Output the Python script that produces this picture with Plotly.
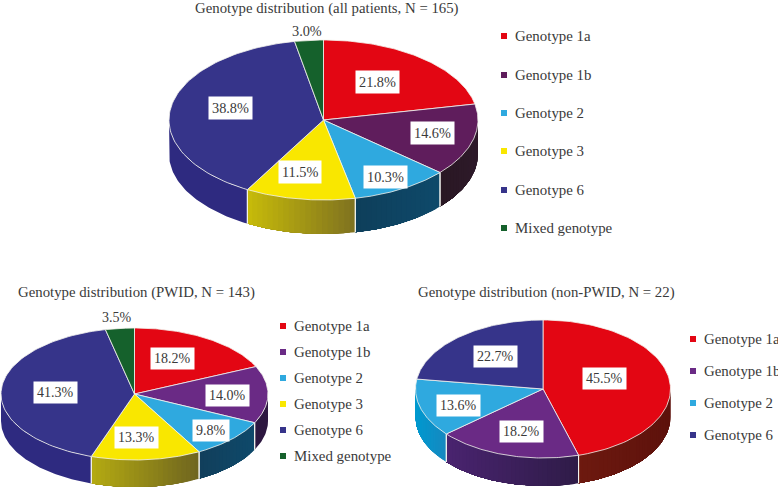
import numpy as np
import plotly.graph_objects as go

# ---------- data ----------
titles = ["Genotype distribution (all patients, N = 165)",
          "Genotype distribution (PWID, N = 143)",
          "Genotype distribution (non-PWID, N = 22)"]
categories_all = ["Genotype 1a", "Genotype 1b", "Genotype 2", "Genotype 3", "Genotype 6", "Mixed genotype"]
values_all = [21.8, 14.6, 10.3, 11.5, 38.8, 3.0]
categories_pwid = ["Genotype 1a", "Genotype 1b", "Genotype 2", "Genotype 3", "Genotype 6", "Mixed genotype"]
values_pwid = [18.2, 14.0, 9.8, 13.3, 41.3, 3.5]
categories_non = ["Genotype 1a", "Genotype 1b", "Genotype 2", "Genotype 6"]
values_non = [45.5, 18.2, 13.6, 22.7]

# ---------- styles ----------
SERIF = "Liberation Serif"
TXT = "#3a3a3a"
RED, PUR1, PUR2, BLUE, YEL, NAVY, GRN = "#E30613", "#5F1D5C", "#6A2A85", "#2FA9DF", "#F9E700", "#36348A", "#15612C"
pies = [
    dict(title=titles[0], cats=categories_all, vals=values_all, cx=323.5, cy=120, rx=154.5, ry=80, depth=34,
         top=[RED, PUR1, BLUE, YEL, NAVY, GRN],
         side=[("#6E1A10", "#6E1A10"), ("#2E1A2A", "#2A1824"), ("#0E4A6B", "#0F3F5B"), ("#7F7220", "#C8BC0A"),
               ("#2E2A80", "#2E2A80"), (GRN, GRN)],
         title_xy=(193, 8), leg_x=504, leg_y=[36, 75, 113, 151, 190, 228],
         lab_xy=[(377, 82), (432, 133), (385, 177), (300, 172), (230, 108), (307, 31)], fs=14.3),
    dict(title=titles[1], cats=categories_pwid, vals=values_pwid, cx=134.5, cy=394, rx=133.5, ry=66, depth=27,
         top=[RED, PUR2, BLUE, YEL, NAVY, GRN],
         side=[("#6E1A10", "#6E1A10"), ("#2D1740", "#2D1740"), ("#0F4A6B", "#123F5C"), ("#6F6520", "#B5AB12"),
               ("#2E2A80", "#2E2A80"), (GRN, GRN)],
         title_xy=(16, 292), leg_x=283, leg_y=[326, 352, 378, 404, 430, 456],
         lab_xy=[(172, 358), (227, 395), (211, 430), (136, 437), (55, 392), (117, 317)], fs=14),
    dict(title=titles[2], cats=categories_non, vals=values_non, cx=543, cy=389, rx=127.5, ry=69, depth=28,
         top=[RED, PUR2, BLUE, NAVY],
         side=[("#5E120C", "#6E1A10"), ("#2F1C48", "#4A2470"), ("#1788C0", "#009AD0"), ("#2E2A80", "#2E2A80")],
         title_xy=(416, 292), leg_x=693, leg_y=[339, 371, 403, 435],
         lab_xy=[(604, 378), (521, 431), (458, 405), (495, 356)], fs=14),
]
# the small outside labels have no white box
UNBOXED = {"Mixed genotype"}


def rgb(h):
    return np.array([int(h[i:i + 2], 16) for i in (1, 3, 5)], float)


def mix(a, b, t):
    c = rgb(a) * (1 - t) + rgb(b) * t
    return "rgb(%d,%d,%d)" % tuple(c)


fig = go.Figure()
annotations = []


def poly(xs, ys, color, line=None, width=0.0):
    fig.add_trace(go.Scatter(x=list(xs), y=list(ys), mode="lines", fill="toself", fillcolor=color,
                             line=dict(color=line or color, width=width), hoverinfo="skip", showlegend=False))


for p in pies:
    cx, cy, rx, ry, d = p["cx"], p["cy"], p["rx"], p["ry"], p["depth"]
    px = lambda t: cx + rx * np.sin(t)
    py = lambda t: cy - ry * np.cos(t)
    edges = np.cumsum([0] + p["vals"]) / sum(p["vals"]) * 2 * np.pi
    seams = []

    # side wall (front half only): each band runs to the end of the slice and is overpainted by the next
    for i in range(len(p["vals"])):
        a0, a1 = max(edges[i], np.pi / 2), min(edges[i + 1], 3 * np.pi / 2)
        if a1 <= a0:
            continue
        right, left = p["side"][i]
        n = 1 if right == left else max(1, int(np.degrees(a1 - a0) / 2))
        b = np.linspace(a0, a1, n + 1)
        for k in range(n):
            t = np.linspace(b[k], a1, max(4, int(np.degrees(a1 - b[k]))))
            xs = np.r_[px(t), px(t[::-1])]
            ys = np.r_[py(t), py(t[::-1]) + d]
            mid = (b[k] + b[k + 1]) / 2
            tx = (px(mid) - px(a1)) / max(px(a0) - px(a1), 1e-6)
            poly(np.r_[xs, xs[0]], np.r_[ys, ys[0]], mix(left, right, float(np.clip(tx, 0, 1))))
        for e in (edges[i], edges[i + 1]):
            if np.pi / 2 < e < 3 * np.pi / 2:
                seams.append(e)
    for e in seams:
        fig.add_trace(go.Scatter(x=[px(e), px(e)], y=[py(e), py(e) + d], mode="lines",
                                 line=dict(color="#f4f4ee", width=1), hoverinfo="skip", showlegend=False))

    # top face
    for i in range(len(p["vals"])):
        t = np.linspace(edges[i], edges[i + 1], 80)
        poly(np.r_[cx, px(t), cx], np.r_[cy, py(t), cy], p["top"][i], line="#f4f4ee", width=0.8)

    # value labels
    for cat, v, (lx, ly) in zip(p["cats"], p["vals"], p["lab_xy"]):
        boxed = cat not in UNBOXED
        annotations.append(dict(x=lx, y=ly, xref="x", yref="y", text="%.1f%%" % v, showarrow=False,
                                font=dict(family=SERIF, size=p["fs"], color=TXT),
                                bgcolor="white" if boxed else "rgba(0,0,0,0)", borderpad=3,
                                xanchor="center", yanchor="middle"))

    # title
    annotations.append(dict(x=p["title_xy"][0], y=p["title_xy"][1], xref="x", yref="y", text=p["title"],
                            showarrow=False, font=dict(family=SERIF, size=14.8, color=TXT),
                            xanchor="left", yanchor="middle"))

    # legend
    fig.add_trace(go.Scatter(x=[p["leg_x"]] * len(p["cats"]), y=p["leg_y"], mode="markers",
                             marker=dict(symbol="square", size=6, color=p["top"], line=dict(width=0)),
                             hoverinfo="skip", showlegend=False))
    for cat, ly in zip(p["cats"], p["leg_y"]):
        annotations.append(dict(x=p["leg_x"] + 8.5, y=ly, xref="x", yref="y", text=cat, showarrow=False,
                                font=dict(family=SERIF, size=14.9, color=TXT),
                                xanchor="left", yanchor="middle"))

fig.update_layout(
    width=778, height=490, margin=dict(l=0, r=0, t=0, b=0),
    paper_bgcolor="white", plot_bgcolor="white", showlegend=False,
    xaxis=dict(range=[0, 778], visible=False, fixedrange=True),
    yaxis=dict(range=[490, 0], visible=False, fixedrange=True),
    annotations=annotations,
)
fig.write_html("out.html", config=dict(displayModeBar=False),
               post_script="document.body.style.margin='0';document.documentElement.style.overflow='hidden';")
